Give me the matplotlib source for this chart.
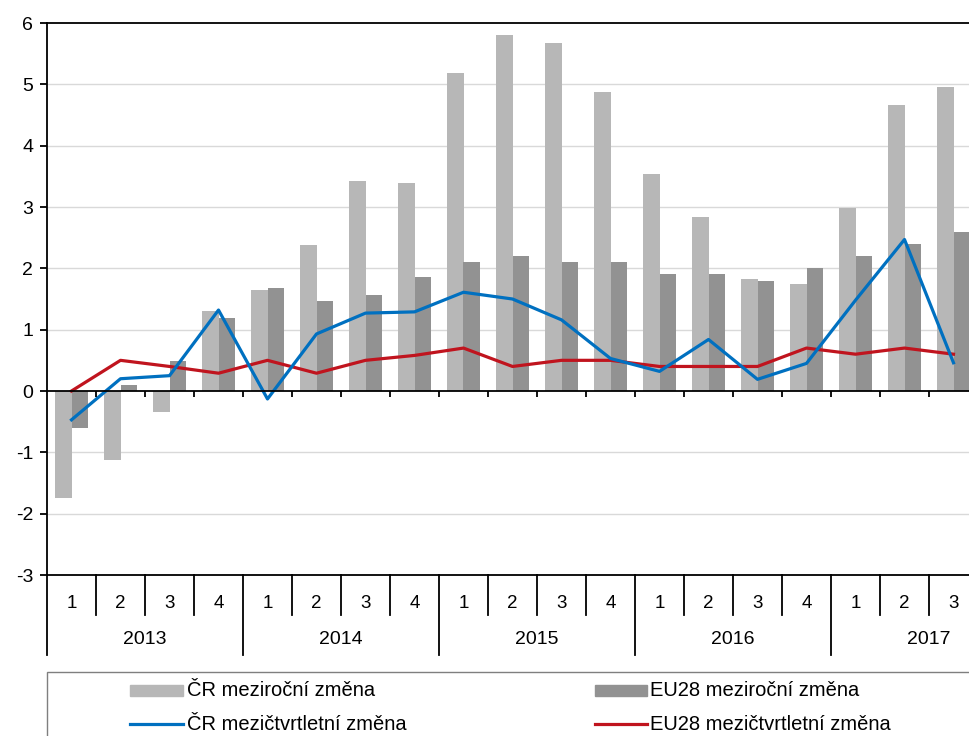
import matplotlib.pyplot as plt
from matplotlib.lines import Line2D
from matplotlib.patches import Rectangle
import matplotlib.transforms as mtransforms
import numpy as np

plt.rcParams["font.family"] = ["Liberation Sans", "DejaVu Sans"]
plt.rcParams["axes.unicode_minus"] = False

years = ["2013", "2014", "2015", "2016", "2017"]
quarters = ["1", "2", "3", "4"] * 4 + ["1", "2", "3"]

cr_yoy = [-1.75, -1.13, -0.35, 1.30, 1.64, 2.38, 3.42, 3.39, 5.19, 5.80,
          5.68, 4.88, 3.54, 2.84, 1.83, 1.75, 2.99, 4.67, 4.96]
eu_yoy = [-0.60, 0.09, 0.49, 1.19, 1.68, 1.47, 1.57, 1.86, 2.10, 2.20,
          2.10, 2.10, 1.90, 1.90, 1.80, 2.00, 2.20, 2.39, 2.60]
cr_qoq = [-0.47, 0.20, 0.25, 1.32, -0.13, 0.93, 1.27, 1.29, 1.61, 1.50,
          1.16, 0.53, 0.32, 0.84, 0.19, 0.45, 1.48, 2.47, 0.46]
eu_qoq = [0.0, 0.50, 0.40, 0.29, 0.50, 0.29, 0.50, 0.58, 0.70, 0.40,
          0.50, 0.50, 0.40, 0.40, 0.40, 0.70, 0.60, 0.70, 0.60]

labels = ["ČR meziroční změna", "EU28 meziroční změna",
          "ČR mezičtvrtletní změna", "EU28 mezičtvrtletní změna"]

c_light = "#b7b7b7"
c_dark = "#929292"
c_blue = "#0070c0"
c_red = "#c0141e"

W, H = 969, 736
fig = plt.figure(figsize=(W / 100, H / 100), dpi=100)
ax = fig.add_axes([47 / W, (H - 575) / H, 931 / W, 552 / H])

x = np.arange(len(cr_yoy))
bw = 0.33
ax.bar(x - bw / 2, cr_yoy, bw, color=c_light, zorder=2)
ax.bar(x + bw / 2, eu_yoy, bw, color=c_dark, zorder=2)
ax.plot(x, cr_qoq, color=c_blue, lw=2.3, zorder=4)
ax.plot(x, eu_qoq, color=c_red, lw=2.3, zorder=3)

ax.set_xlim(-0.5, len(x) - 0.5)
ax.set_ylim(-3, 6)
ax.set_yticks(range(-3, 7))
for v in range(-2, 6):
    if v != 0:
        ax.axhline(v, color="#d9d9d9", lw=1, zorder=1)
ax.axhline(0, color="black", lw=1.3, zorder=5)
ax.vlines(np.arange(len(x) - 1) + 0.5, -0.1, 0, color="black", lw=1.3, zorder=5)

for s in ["left", "top", "bottom"]:
    ax.spines[s].set_linewidth(1.3)
ax.spines["right"].set_visible(False)
ax.tick_params(axis="y", length=5, width=1.3, labelsize=14, pad=5)
ax.set_xticks([])

# category table below the plot
trans = mtransforms.blended_transform_factory(ax.transData, fig.transFigure)
yq_top = (H - 575) / H
yq_bot = (H - 615) / H
yy_bot = (H - 655) / H
for i in range(len(x) + 1):
    xb = i - 0.5
    y_end = yy_bot if i % 4 == 0 else yq_bot
    ax.plot([xb, xb], [yq_top, y_end], transform=trans, color="black",
            lw=1.3, clip_on=False)
for i, q in enumerate(quarters):
    ax.text(i, (H - 603) / H, q, transform=trans, ha="center", va="center",
            fontsize=13.5, clip_on=False)
for k, yr in enumerate(years):
    ax.text(k * 4 + 1.5, (H - 640) / H, yr, transform=trans, ha="center",
            va="center", fontsize=14, clip_on=False)

# legend
fig.patches.append(Rectangle((47 / W, -0.05), 0.99, (H - 672) / H + 0.05,
                             transform=fig.transFigure, fill=False,
                             edgecolor="#7f7f7f", lw=1))
rows = [(H - 690) / H, (H - 724) / H]
cols = [(130, 183, 187), (595, 647, 650)]
for lab, row, col in zip(labels, [0, 0, 1, 1], [0, 1, 0, 1]):
    x0, x1, xt = cols[col]
    yc = rows[row]
    if row == 0:
        color = c_light if col == 0 else c_dark
        fig.patches.append(Rectangle((x0 / W, yc - 5.5 / H), (x1 - x0) / W, 11 / H,
                                     transform=fig.transFigure, color=color))
    else:
        color = c_blue if col == 0 else c_red
        fig.lines.append(Line2D([x0 / W, x1 / W], [yc, yc], transform=fig.transFigure,
                                color=color, lw=2.3))
    fig.text(xt / W, yc, lab, ha="left", va="center", fontsize=14.5)

fig.savefig("out.png", dpi=100)
